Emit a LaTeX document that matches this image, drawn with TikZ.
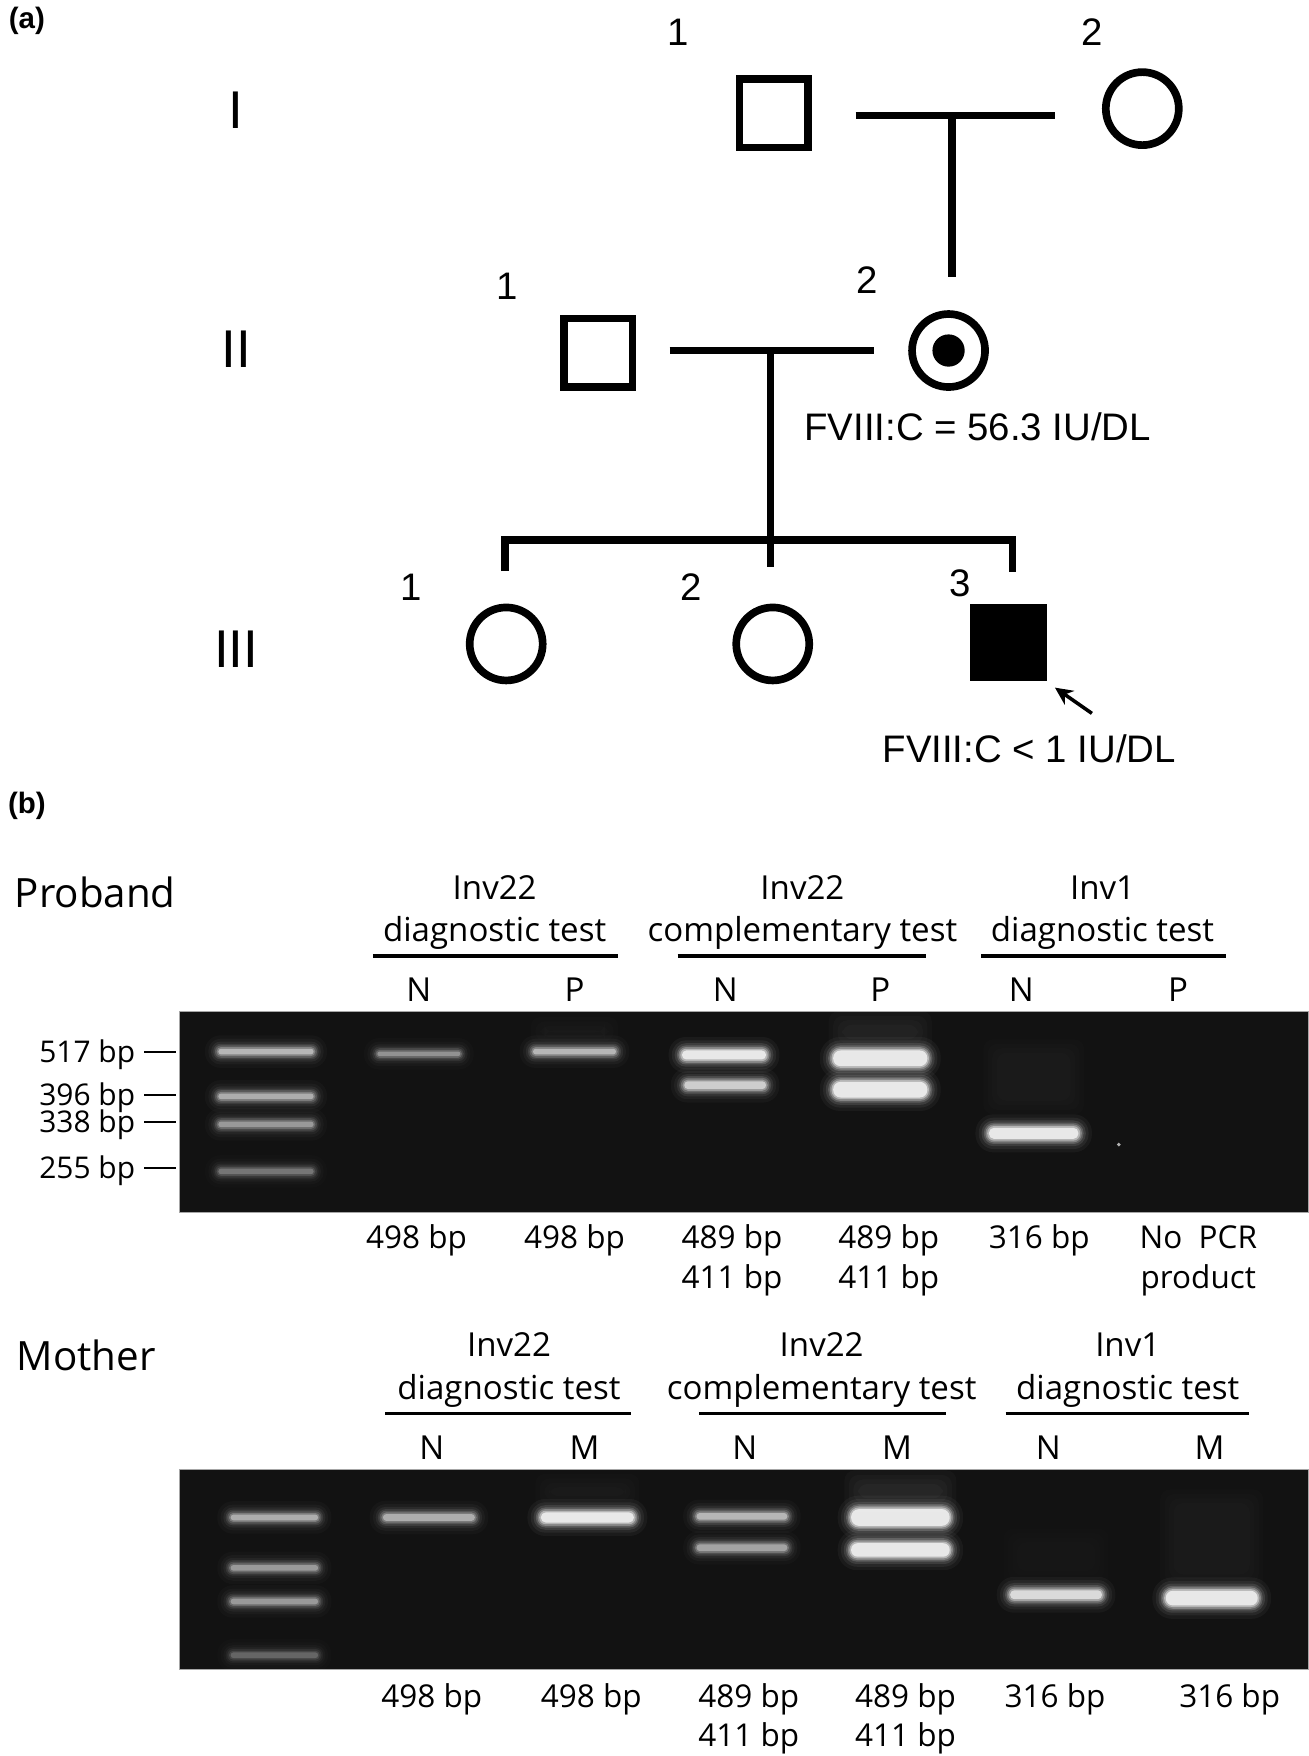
\documentclass[tikz,border=0pt]{standalone}
\usepackage{fontspec}
\setmainfont{Liberation Sans}
\newfontfamily\gelfont{Open Sans}
\usetikzlibrary{arrows.meta}
\definecolor{gelbg}{gray}{0.07}

% x1 x2 y height brightness
\newcommand\gband[5]{%
 \foreach \e/\f in {10/0.04,7/0.06,4.5/0.1,2.5/0.16,1/0.25,-0.5/0.4,-2/0.7}{%
  \pgfmathsetmacro\hh{max(#4/2+\e,1)}%
  \pgfmathsetmacro\op{\f*#5}%
  \pgfmathsetmacro\rr{\hh*0.54}%
  \fill[white,opacity=\op,rounded corners=\rr pt] (#1-\e,#3-\hh) rectangle (#2+\e,#3+\hh);
 }%
}
% x1 x2 y1 y2 opacity
\newcommand\gsmear[5]{%
 \foreach \i in {0,4,8,12}{%
  \fill[white,opacity=#5,rounded corners=5pt] (#1+\i,#3+\i) rectangle (#2-\i,#4-\i);
 }%
}

\tikzset{
 ped/.style={inner sep=0pt,font=\fontsize{19.5}{23}\selectfont},
 gen/.style={inner sep=0pt,font=\fontsize{27}{32}\selectfont},
 pnl/.style={inner sep=0pt,font=\bfseries\fontsize{15}{18}\selectfont},
 hdr/.style={inner sep=0pt,anchor=base,font=\gelfont\fontsize{16.8}{20}\selectfont},
 bpl/.style={inner sep=0pt,anchor=base,font=\gelfont\fontsize{16}{19}\selectfont},
 ttl/.style={inner sep=0pt,anchor=base,font=\gelfont\fontsize{20.5}{24}\selectfont},
 lad/.style={inner sep=0pt,anchor=base east,font=\gelfont\fontsize{15.2}{18}\selectfont},
 male/.style={draw,line width=3.9pt,rectangle,minimum size=34.9pt,inner sep=0pt,outer sep=0pt},
 female/.style={draw,line width=3.9pt,circle,minimum size=37.1pt,inner sep=0pt,outer sep=0pt},
 affm/.style={fill=black,rectangle,minimum size=39pt,inner sep=0pt,outer sep=0pt},
 pline/.style={line width=3.9pt},
 uline/.style={line width=1.8pt},
 tick/.style={line width=1pt},
 gel/.style={fill=gelbg,draw=gray!70,line width=0.4pt},
}

\begin{document}
\begin{tikzpicture}[x=0.02cm,y=-0.02cm]
\useasboundingbox (0,0) rectangle (1168,1568);
\fill[white] (0,0) rectangle (1168,1568);

% ---------- panel (a) ----------
\node[pnl] (la) at (24,19) {(a)};
\node[gen] (g1) at (211,98) {I};
\node[gen] (g2) at (211,312) {II};
\node[gen] (g3) at (211,580) {III};

\node[male] (i1) at (691,101) {};
\node[female] (i2) at (1020,97) {};
\node[ped] (n-i1) at (606,29) {1};
\node[ped] (n-i2) at (975,29) {2};

\node[male] (ii1) at (534,315) {};
\node[female] (ii2) at (847,313) {};
\fill (ii2.center) circle (8.2pt);
\node[ped] (n-ii1) at (453,256) {1};
\node[ped] (n-ii2) at (774,250) {2};
\node[ped] (t-ii2) at (873,381) {FVIII:C = 56.3 IU/DL};

\node[female] (iii1) at (452,575) {};
\node[female] (iii2) at (690,575) {};
\node[affm] (iii3) at (900.5,574) {};
\node[ped] (n-iii1) at (367,524) {1};
\node[ped] (n-iii2) at (617,524) {2};
\node[ped] (n-iii3) at (857,521) {3};
\node[ped] (t-iii3) at (919,669) {FVIII:C < 1 IU/DL};

% connectors
\coordinate (m1a) at (764,103);
\coordinate (m1b) at (942,103);
\coordinate (m1c) at (850,103);
\coordinate (m1d) at (850,247);
\draw[pline] (m1a) -- (m1b);
\draw[pline] (m1c) -- (m1d);

\coordinate (m2a) at (598,313);
\coordinate (m2b) at (780,313);
\coordinate (m2c) at (688,313);
\coordinate (m2d) at (688,506);
\draw[pline] (m2a) -- (m2b);
\draw[pline] (m2c) -- (m2d);

\coordinate (s1) at (451,510);
\coordinate (s2) at (451,482);
\coordinate (s3) at (904,482);
\coordinate (s4) at (904,511);
\draw[pline] (s1) -- (s2) -- (s3) -- (s4);

\coordinate (ar1) at (975,637);
\coordinate (ar2) at (942,614);
\draw[line width=1.8pt,-{Stealth[length=9pt,width=8.5pt]}] (ar1) -- (ar2);

% ---------- panel (b) ----------
\node[pnl] (lb) at (24,720) {(b)};

% Proband
\node[ttl] (prob) at (85,810) {Proband};
\node[hdr] (p-h1a) at (441.7,803) {Inv22};
\node[hdr] (p-h1b) at (441.7,841) {diagnostic test};
\node[hdr] (p-h2a) at (716.5,803) {Inv22};
\node[hdr] (p-h2b) at (716.5,841) {complementary test};
\node[hdr] (p-h3a) at (984.5,803) {Inv1};
\node[hdr] (p-h3b) at (984.5,841) {diagnostic test};
\coordinate (pu1a) at (333,853.5); \coordinate (pu1b) at (552,853.5);
\coordinate (pu2a) at (605,853.5); \coordinate (pu2b) at (827,853.5);
\coordinate (pu3a) at (876,853.5); \coordinate (pu3b) at (1095,853.5);
\draw[uline] (pu1a) -- (pu1b);
\draw[uline] (pu2a) -- (pu2b);
\draw[uline] (pu3a) -- (pu3b);
\node[hdr] (p-l1) at (374,894.5) {N};
\node[hdr] (p-l2) at (513,894.5) {P};
\node[hdr] (p-l3) at (647.6,894.5) {N};
\node[hdr] (p-l4) at (786,894.5) {P};
\node[hdr] (p-l5) at (912,894.5) {N};
\node[hdr] (p-l6) at (1052,894.5) {P};

\fill[gel] (160,903) rectangle (1168,1083);
% ladder
\gband{193}{282}{939}{9}{0.6}
\gband{193}{282}{979}{9}{0.55}
\gband{193}{282}{1004}{9}{0.45}
\gband{193}{282}{1046}{9}{0.3}
% lanes
\gband{335}{413}{941}{8}{0.42}
\gsmear{474}{552}{908}{934}{0.012}
\gband{474}{552}{939}{9}{0.6}
\gband{607}{686}{942}{12}{1.0}
\gband{609}{686}{969}{11}{0.75}
\gsmear{740}{832}{903}{940}{0.018}
\gband{742}{830}{945}{18}{1.0}
\gband{742}{830}{973}{18}{1.0}
\gsmear{878}{968}{928}{995}{0.012}
\gband{881}{965}{1012}{14}{1.0}
\fill[gray!60] (999,1022) circle (1pt);

\node[lad] (lad1) at (121,948.5) {517 bp};
\node[lad] (lad2) at (121,987.5) {396 bp};
\node[lad] (lad3) at (121,1011.5) {338 bp};
\node[lad] (lad4) at (121,1052.5) {255 bp};
\coordinate (tk1a) at (129,939);  \coordinate (tk1b) at (157,939);
\coordinate (tk2a) at (129,978);  \coordinate (tk2b) at (157,978);
\coordinate (tk3a) at (129,1002); \coordinate (tk3b) at (157,1002);
\coordinate (tk4a) at (129,1043); \coordinate (tk4b) at (157,1043);
\draw[tick] (tk1a) -- (tk1b);
\draw[tick] (tk2a) -- (tk2b);
\draw[tick] (tk3a) -- (tk3b);
\draw[tick] (tk4a) -- (tk4b);

\node[bpl] (p-b1) at (372,1115) {498 bp};
\node[bpl] (p-b2) at (513,1115) {498 bp};
\node[bpl] (p-b3a) at (653.6,1115) {489 bp};
\node[bpl] (p-b3b) at (653.6,1150.5) {411 bp};
\node[bpl] (p-b4a) at (793.6,1115) {489 bp};
\node[bpl] (p-b4b) at (793.6,1150.5) {411 bp};
\node[bpl] (p-b5) at (928,1115) {316 bp};
\node[bpl] (p-b6a) at (1070,1115) {No\ \ PCR};
\node[bpl] (p-b6b) at (1070,1150.5) {product};

% Mother
\node[ttl] (moth) at (77,1224) {Mother};
\node[hdr] (m-h1a) at (454.5,1211.5) {Inv22};
\node[hdr] (m-h1b) at (454.5,1249.5) {diagnostic test};
\node[hdr] (m-h2a) at (733.7,1211.5) {Inv22};
\node[hdr] (m-h2b) at (733.7,1249.5) {complementary test};
\node[hdr] (m-h3a) at (1007,1211.5) {Inv1};
\node[hdr] (m-h3b) at (1007,1249.5) {diagnostic test};
\coordinate (mu1a) at (344,1262); \coordinate (mu1b) at (563,1262);
\coordinate (mu2a) at (624,1262); \coordinate (mu2b) at (845,1262);
\coordinate (mu3a) at (898,1262); \coordinate (mu3b) at (1115.5,1262);
\draw[uline] (mu1a) -- (mu1b);
\draw[uline] (mu2a) -- (mu2b);
\draw[uline] (mu3a) -- (mu3b);
\node[hdr] (m-l1) at (385.6,1303) {N};
\node[hdr] (m-l2) at (522,1303) {M};
\node[hdr] (m-l3) at (665,1303) {N};
\node[hdr] (m-l4) at (801,1303) {M};
\node[hdr] (m-l5) at (936,1303) {N};
\node[hdr] (m-l6) at (1080,1303) {M};

\fill[gel] (160,1312) rectangle (1168,1491);
\gband{204}{286}{1355}{9}{0.55}
\gband{204}{286}{1400}{9}{0.45}
\gband{204}{286}{1430}{9}{0.45}
\gband{204}{286}{1478}{9}{0.25}
\gband{340}{426}{1355}{10}{0.55}
\gsmear{478}{571}{1316}{1348}{0.012}
\gband{481}{568}{1355}{13}{1.0}
\gband{620}{705}{1354}{10}{0.6}
\gband{620}{705}{1382}{10}{0.5}
\gsmear{754}{854}{1313}{1350}{0.025}
\gband{758}{850}{1355}{19}{1.0}
\gband{758}{850}{1384}{16}{1.0}
\gsmear{896}{990}{1365}{1415}{0.008}
\gband{900}{986}{1424}{12}{0.85}
\gsmear{1036}{1128}{1330}{1418}{0.012}
\gband{1039}{1125}{1427}{17}{1.0}

\node[bpl] (m-b1) at (385.6,1525) {498 bp};
\node[bpl] (m-b2) at (528,1525) {498 bp};
\node[bpl] (m-b3a) at (668.6,1525) {489 bp};
\node[bpl] (m-b3b) at (668.6,1559.5) {411 bp};
\node[bpl] (m-b4a) at (808.6,1525) {489 bp};
\node[bpl] (m-b4b) at (808.6,1559.5) {411 bp};
\node[bpl] (m-b5) at (942,1525) {316 bp};
\node[bpl] (m-b6) at (1098,1525) {316 bp};
\end{tikzpicture}
\end{document}
